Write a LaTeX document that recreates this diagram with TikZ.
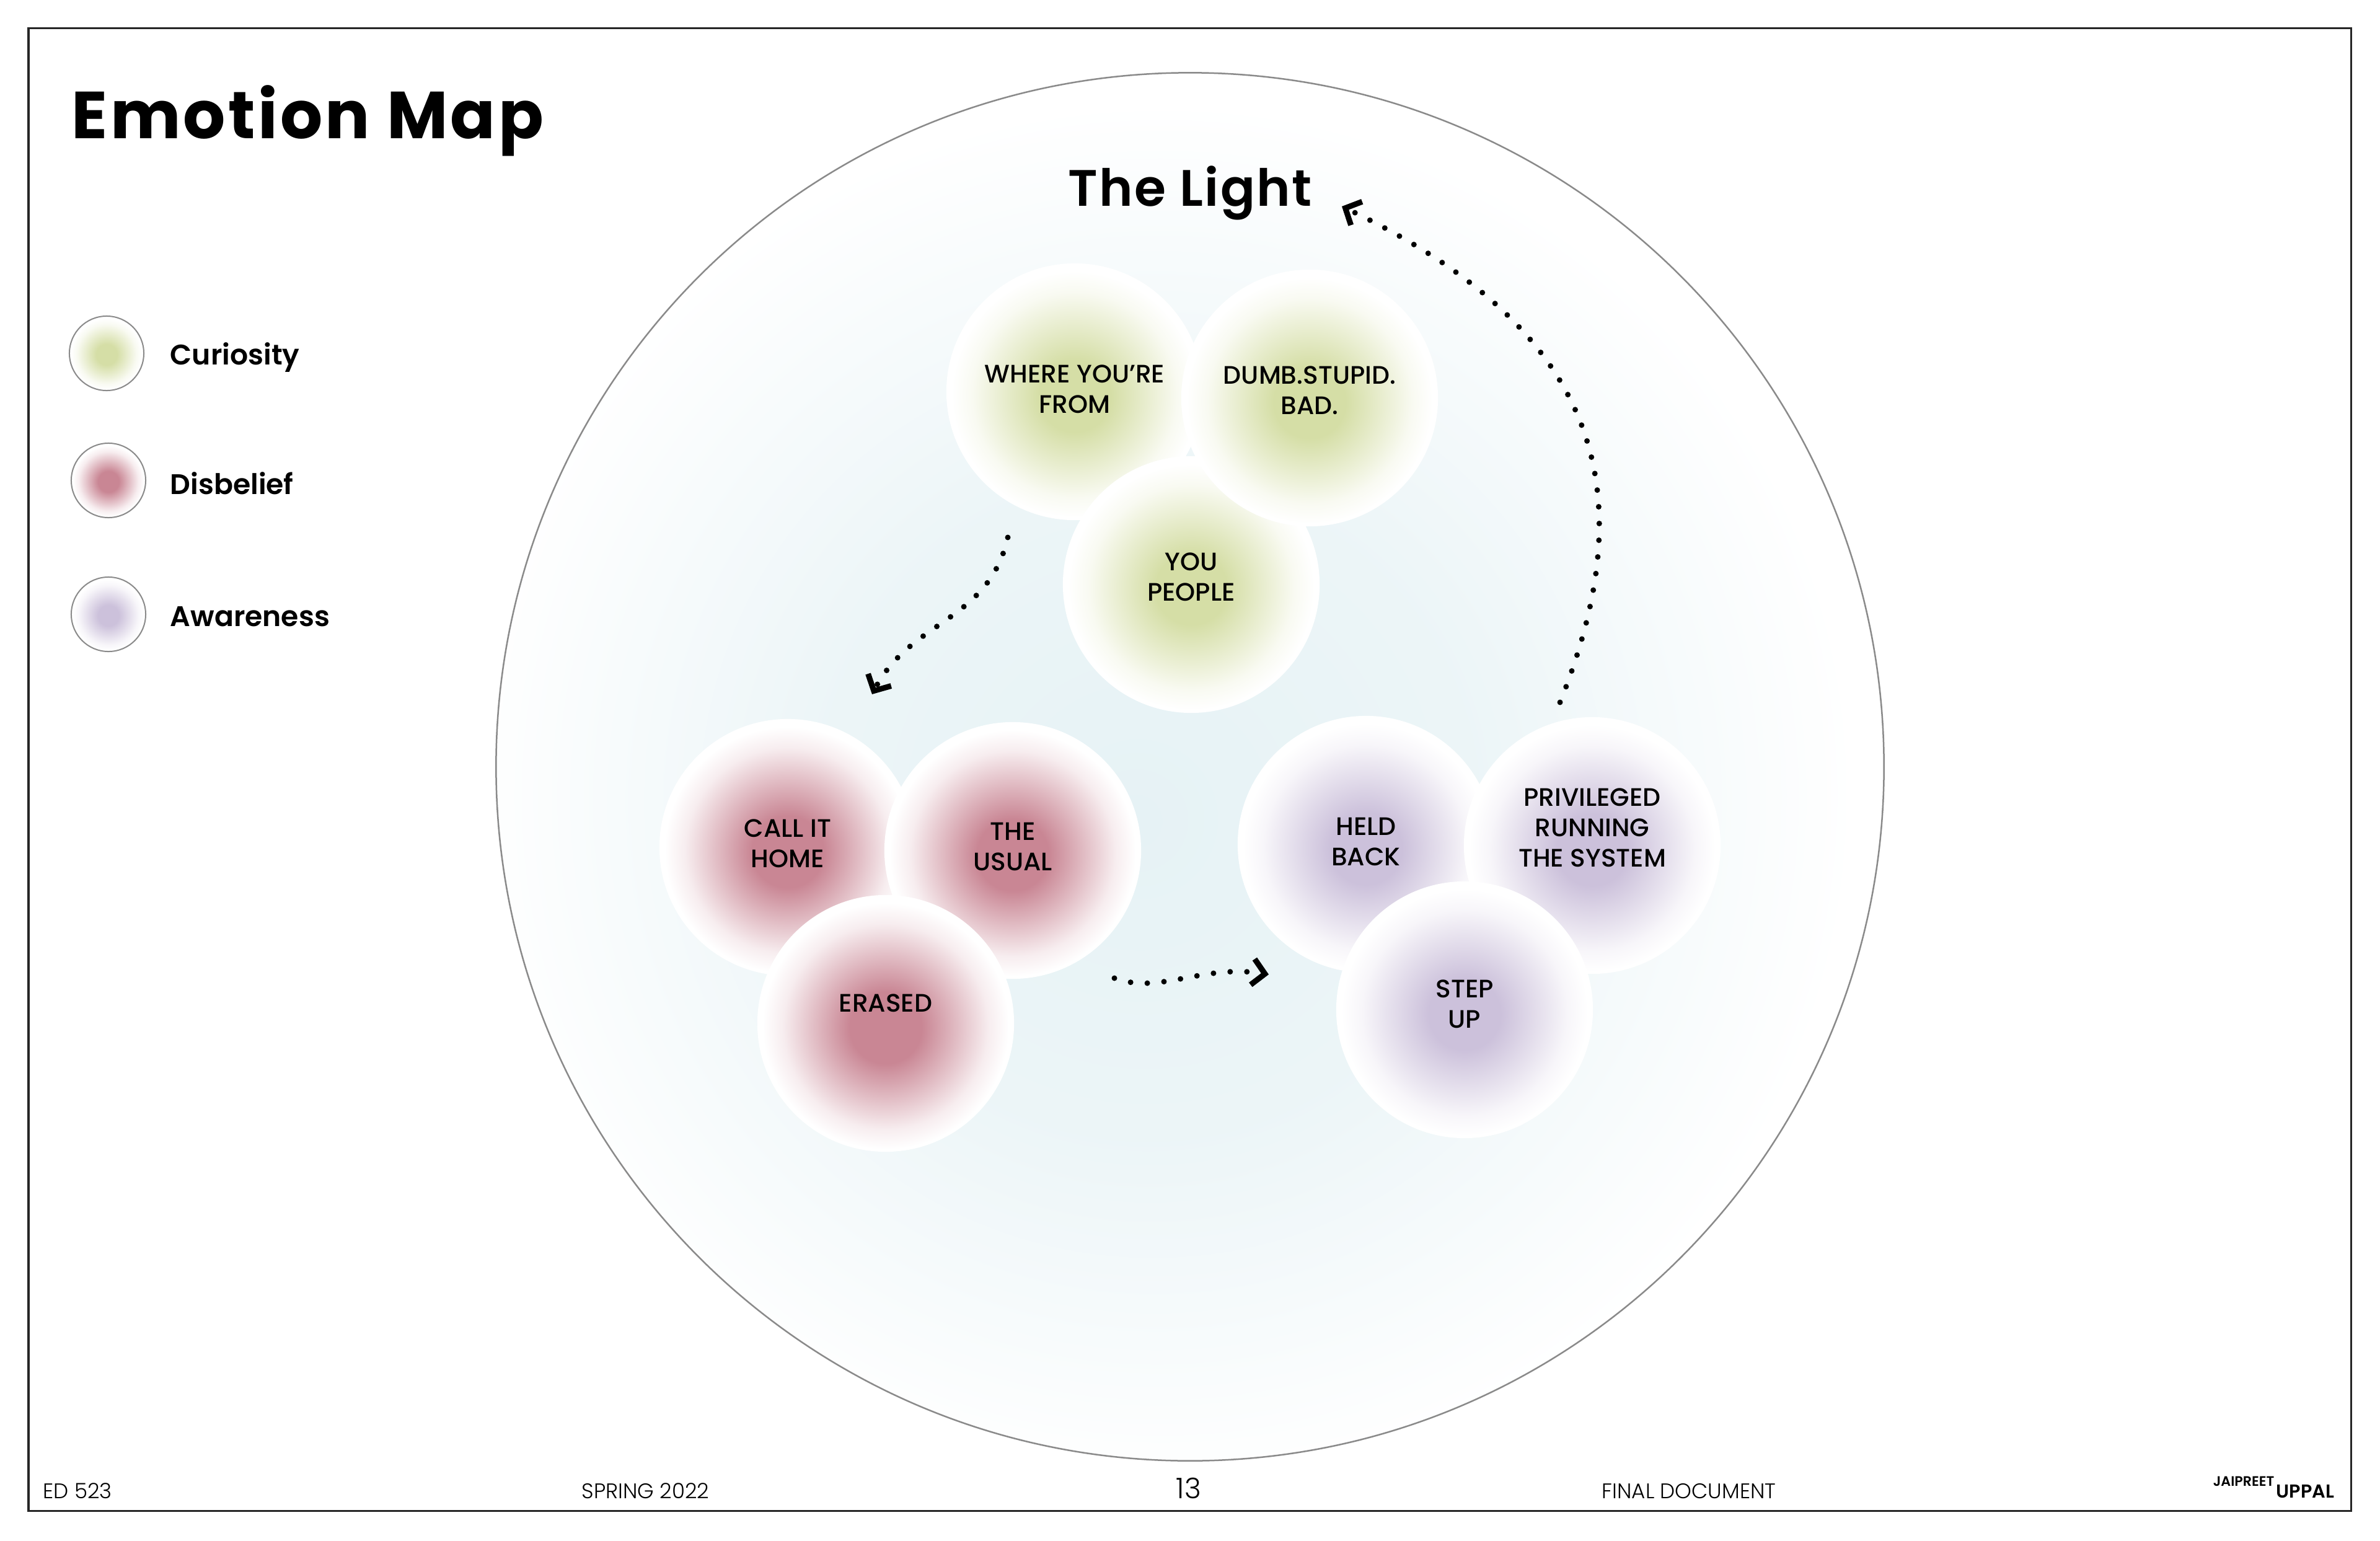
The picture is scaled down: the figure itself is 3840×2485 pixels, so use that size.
\documentclass[tikz,border=0pt]{standalone}
\usepackage{fontspec}
\setmainfont{Poppins}
\newfontfamily\popsemi{Poppins SemiBold}
\newfontfamily\popmed{Poppins Medium}
\newfontfamily\poplight{Poppins Light}
\usetikzlibrary{arrows.meta,positioning}

\definecolor{curio}{HTML}{D5DEA6}
\definecolor{disb}{HTML}{C98694}
\definecolor{aware}{HTML}{CCC1DB}
\definecolor{haze}{HTML}{E6F2F5}
\definecolor{rim}{HTML}{8A8A8A}

\colorlet{blobcol}{curio}
\pgfdeclareradialshading[blobcol]{blob}{\pgfpoint{0bp}{-1bp}}{color(0bp)=(blobcol); color(7bp)=(blobcol); color(20bp)=(blobcol!15!white); color(24bp)=(white); color(50bp)=(white)}
\pgfdeclareradialshading{glow}{\pgfpoint{-2bp}{-2bp}}{color(0bp)=(haze); color(12bp)=(haze!75!white); color(25bp)=(white); color(50bp)=(white)}

\tikzset{
  blob/.style={circle, minimum size=4.14cm, inner sep=0pt, align=center,
    font=\popmed\fontsize{11.6pt}{13.9pt}\selectfont, text depth=0.08cm,
    /utils/exec={\colorlet{blobcol}{#1}}, shading=blob},
  lift/.style={text depth=#1},
  keydot/.style={circle, minimum size=1.2cm, inner sep=0pt, draw=rim, line width=0.02cm,
    /utils/exec={\colorlet{blobcol}{#1}}, shading=blob},
  keytext/.style={font=\popsemi\fontsize{13pt}{15pt}\selectfont, inner sep=0pt,
    text height=0.32cm, text depth=0pt},
  trail/.style={line width=0.09cm, dash pattern=on 0pt off 0.27cm, line cap=round,
    -{Straight Barb[length=0.2cm, width=0.42cm, line width=0.09cm]}},
  foot/.style={font=\poplight\fontsize{9.7pt}{11pt}\selectfont, inner sep=0pt, anchor=base west}
}

\begin{document}
\begin{tikzpicture}[x=0.01cm, y=-0.01cm]

\useasboundingbox (0,0) rectangle (3840,2485);
\fill[white] (0,0) rectangle (3840,2485);
\draw[line width=0.03cm, draw=black!85] (46,46) rectangle (3793,2437);

\node[
    circle,
    minimum size=22.38cm,
    inner sep=0pt,
    draw=rim,
    line width=0.025cm,
    shading=glow
] (globe) at (1920,1237) {};

\node[
    anchor=base west,
    inner sep=0pt,
    font=\bfseries\addfontfeatures{LetterSpace=4}\fontsize{30.5pt}{36pt}\selectfont
] (title) at (115,224)
{Emotion Map};

\node[
    anchor=base,
    inner sep=0pt,
    font=\popsemi\addfontfeatures{LetterSpace=3}\fontsize{23.5pt}{28pt}\selectfont
] (light) at (1920,333)
{The Light};

\node[keydot=curio] (kcur) at (172,570) {};
\node[keydot=disb] (kdis) at (175,775) {};
\node[keydot=aware] (kawa) at (175,991) {};
\node[keytext, right=0.41cm of kcur, yshift=-0.02cm] {Curiosity};
\node[keytext, right=0.38cm of kdis, yshift=-0.06cm] {Disbelief};
\node[keytext, right=0.38cm of kawa, yshift=-0.03cm] {Awareness};

\node[blob=curio] (where) at (1734,632) {WHERE YOU’RE\\FROM};
\node[blob=curio, lift=0.24cm] (you) at (1922,943) {YOU\\PEOPLE};
\node[blob=curio, lift=0.24cm] (dumb) at (2113,642) {DUMB.STUPID.\\BAD.};

\node[blob=disb, lift=0.12cm] (home) at (1271,1367) {CALL IT\\HOME};
\node[blob=disb, lift=0.12cm] (usual) at (1634,1372) {THE\\USUAL};
\node[blob=disb, lift=0.66cm] (erased) at (1429,1651) {ERASED};

\node[blob=aware] (held) at (2204,1362) {HELD\\BACK};
\node[blob=aware, lift=0.58cm] (priv) at (2569,1364) {PRIVILEGED\\RUNNING\\THE SYSTEM};
\node[blob=aware, lift=0.18cm] (stepup) at (2363,1629) {STEP\\UP};

\coordinate (cur-out) at (1626,867);
\coordinate (dis-in) at (1407,1120);
\coordinate (dis-out) at (1798,1578);
\coordinate (awa-in) at (2047,1572);
\coordinate (awa-out) at (2517,1133);
\coordinate (light-in) at (2165,333);

\draw[trail] (cur-out) .. controls (1595,1003) and (1470,1000) .. (dis-in);
\draw[trail] (dis-out) .. controls (1870,1605) and (1940,1555) .. (awa-in);
\draw[trail] (awa-out) .. controls (2647,808) and (2597,539) .. (light-in);

\node[foot] (course) at (69,2417) {ED 523};
\node[foot] (term) at (938,2417) {SPRING 2022};
\node[foot, anchor=base, font=\poplight\fontsize{13pt}{15pt}\selectfont] (page) at (1918,2417) {13};
\node[foot] (doc) at (2584,2417) {FINAL DOCUMENT};
\node[anchor=base west, inner sep=0pt, font=\popsemi\fontsize{6.3pt}{7pt}\selectfont] (first) at (3570,2397) {JAIPREET};
\node[anchor=base west, inner sep=0pt, font=\popsemi\fontsize{8.6pt}{9pt}\selectfont] (last) at (3672,2416) {UPPAL};

\end{tikzpicture}
\end{document}
